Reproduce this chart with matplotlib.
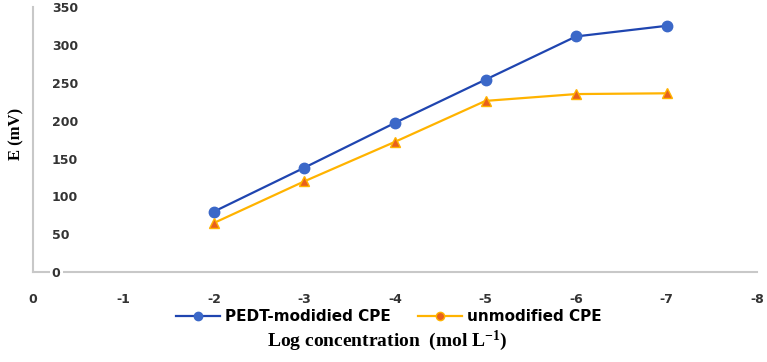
import matplotlib
matplotlib.use("Agg")
import matplotlib.pyplot as plt
from matplotlib.lines import Line2D

plt.rcParams["mathtext.fontset"] = "custom"
plt.rcParams["mathtext.rm"] = "Liberation Serif:bold"
plt.rcParams["mathtext.bf"] = "Liberation Serif:bold"
plt.rcParams["mathtext.it"] = "Liberation Serif:bold"

log_conc = [-2, -3, -4, -5, -6, -7]
pedt_modified = [80, 138, 197, 254, 311, 325]
unmodified = [65, 120, 172, 226, 235, 236]
x_ticks = [0, -1, -2, -3, -4, -5, -6, -7, -8]
y_ticks = [0, 50, 100, 150, 200, 250, 300, 350]

fig = plt.figure(figsize=(7.67, 3.62), dpi=100)
ax = fig.add_axes([0.043, 0.248, 0.944, 0.733])

blue_line = "#1f45b0"
blue_mk = "#3b68c8"
gold = "#FFB300"
tri_fill = "#E8601C"

ax.plot(log_conc, pedt_modified, color=blue_line, lw=1.6, marker="o",
        ms=7.5, mfc=blue_mk, mec=blue_mk, zorder=4)
ax.plot(log_conc, unmodified, color=gold, lw=1.6, marker="^",
        ms=7.5, mfc=tri_fill, mec=gold, mew=1.0, zorder=4)

ax.set_xlim(0, -8)
ax.set_ylim(0, 350)
ax.set_xticks(x_ticks)
ax.set_xticklabels([str(v) for v in x_ticks])
ax.set_yticks(y_ticks)
ax.set_yticklabels([str(v) for v in y_ticks])

for s in ["top", "right"]:
    ax.spines[s].set_visible(False)
for s in ["left", "bottom"]:
    ax.spines[s].set_color("#c8c8c8")
    ax.spines[s].set_linewidth(1.5)

ax.tick_params(axis="both", length=0, labelsize=9, labelcolor="#333333")
ax.tick_params(axis="x", pad=15)
ax.tick_params(axis="y", pad=-13.5)
ax.yaxis.set_zorder(3)
for lab in ax.get_yticklabels():
    lab.set_horizontalalignment("left")
    lab.set_fontweight("bold")
    lab.set_bbox(dict(facecolor="white", edgecolor="none", pad=1.5))
for lab in ax.get_xticklabels():
    lab.set_fontweight("bold")

fig.text(0.021, 0.63, "E (mV)", rotation=90, ha="center", va="center",
         family="Liberation Serif", fontweight="bold", fontsize=12)

handles = [
    Line2D([0], [0], color=blue_line, lw=1.6, marker="o", ms=6, mfc=blue_mk, mec=blue_mk),
    Line2D([0], [0], color=gold, lw=1.6, marker="o", ms=6, mfc=tri_fill, mec=gold),
]
fig.legend(handles, ["PEDT-modidied CPE", "unmodified CPE"], loc="center",
           bbox_to_anchor=(0.507, 0.125), ncol=2, frameon=False,
           prop={"weight": "bold", "size": 11}, handlelength=2.9,
           columnspacing=1.8, handletextpad=0.3,
           borderpad=0, borderaxespad=0)

fig.text(0.505, 0.045, "Log concentration  (mol L$^{-1}$)",
         ha="center", va="baseline", family="Liberation Serif",
         fontweight="bold", fontsize=14)

fig.savefig("out.png", dpi=100)
